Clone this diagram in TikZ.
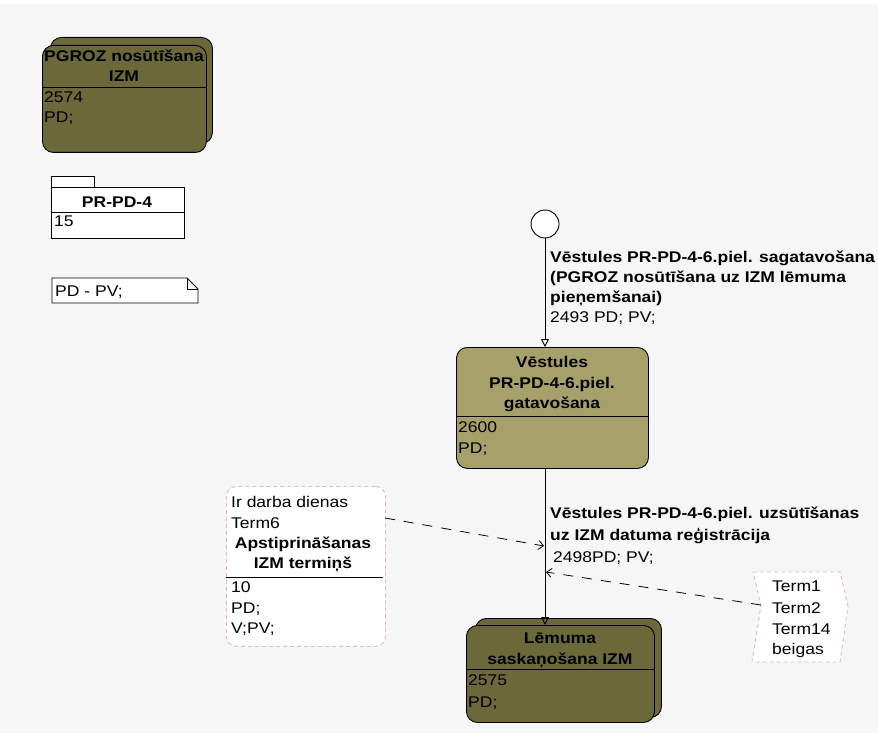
\documentclass[tikz,border=0pt]{standalone}
\usepackage{fontspec}
\setmainfont{Liberation Sans}[FakeStretch=1.13]
\usetikzlibrary{arrows.meta}
\definecolor{darkolive}{HTML}{6B6839}
\definecolor{lightolive}{HTML}{A6A16B}
\definecolor{pinkdash}{HTML}{E0B4E0}
\definecolor{bgc}{HTML}{F6F6F6}
\newcommand\fnt{\fontsize{15.5}{21}\selectfont}
\begin{document}
\begin{tikzpicture}[x=1pt,y=-1pt,
  lt/.style={inner sep=0pt,anchor=base west,font=\fnt},
  ct/.style={inner sep=0pt,anchor=base,font=\fnt\bfseries},
  bl/.style={inner sep=0pt,anchor=base west,font=\fnt\bfseries},
  statebox/.style={draw=black,line width=0.9pt,rounded corners=11pt,anchor=north west,inner sep=0pt},
  plainbox/.style={draw=black,line width=0.9pt,fill=white,anchor=north west,inner sep=0pt},
  sep/.style={draw=black,line width=0.9pt},
  flow/.style={draw=black,line width=0.9pt,-{Triangle[open,length=8pt,width=8pt]}},
  depline/.style={draw=black,line width=0.8pt,dash pattern=on 10pt off 9pt,-{Straight Barb[length=5pt,width=9pt]}},
  pinkbox/.style={draw=pinkdash,line width=0.9pt,dash pattern=on 4pt off 3pt,fill=white}]
\useasboundingbox (0,0) rectangle (878,733);
\fill[bgc] (0,4) rectangle (878,733);

% PGROZ state
\node[statebox,fill=darkolive,minimum width=162pt,minimum height=106pt] (pgrozback) at (50,37) {};
\node[statebox,fill=darkolive,minimum width=164pt,minimum height=107pt] (pgroz) at (42,45) {};
\draw[sep] (pgroz.west |- 0,87) -- (pgroz.east |- 0,87);
\node[ct] (pgrozta) at (124,62) {PGROZ nosūtīšana};
\node[ct] (pgroztb) at (124,82) {IZM};
\node[lt] (pgrozn) at (44,103) {2574};
\node[lt] (pgrozp) at (44,123) {PD;};

% package
\node[plainbox,minimum width=43pt,minimum height=11pt] (pkgtab) at (51,176) {};
\node[plainbox,minimum width=133pt,minimum height=51pt] (pkg) at (51,187) {};
\draw[sep] (pkg.west |- 0,212) -- (pkg.east |- 0,212);
\node[ct] (pkgt) at (117,207) {PR-PD-4};
\node[lt] (pkgn) at (54,226) {15};

% note
\draw[line width=0.9pt,fill=white] (52,278) -- (187,278) -- (198,289) -- (198,303) -- (52,303) -- cycle;
\draw[line width=0.8pt] (187,278) -- (187,289) -- (198,289);
\node[lt] (notet) at (55,296) {PD - PV;};

% start
\node[circle,draw=black,line width=0.9pt,fill=white,minimum size=28pt,inner sep=0pt] (start) at (545,224) {};

% Vestules state
\node[statebox,fill=lightolive,minimum width=192pt,minimum height=121pt] (vest) at (456,347) {};
\draw[sep] (vest.west |- 0,416) -- (vest.east |- 0,416);
\node[ct] (vesta) at (552,367) {Vēstules};
\node[ct] (vestb) at (552,388) {PR-PD-4-6.piel.};
\node[ct] (vestc) at (552,408) {gatavošana};
\node[lt] (vestn) at (458,432) {2600};
\node[lt] (vestp) at (458,453) {PD;};

% Lemuma state
\node[statebox,fill=darkolive,minimum width=186pt,minimum height=99pt] (lemback) at (475,618) {};
\node[statebox,fill=darkolive,minimum width=188pt,minimum height=97pt] (lem) at (466,625) {};
\draw[sep] (lem.west |- 0,669) -- (lem.east |- 0,669);
\node[ct] (lema) at (560,643) {Lēmuma};
\node[ct] (lemb) at (560,664) {saskaņošana IZM};
\node[lt] (lemn) at (468,685) {2575};
\node[lt] (lemp) at (468,707) {PD;};

% flows
\draw[flow] (start.south) -- (start.south |- vest.north);
\draw[flow] (start |- vest.south) -- (start |- lem.north);

\node[bl] (fa1) at (550,262) {Vēstules PR-PD-4-6.piel. sagatavošana};
\node[bl] (fa2) at (550,282) {(PGROZ nosūtīšana uz IZM lēmuma};
\node[bl] (fa3) at (550,302) {pieņemšanai)};
\node[lt] (fa4) at (550,322) {2493 PD; PV;};

\node[bl] (fb1) at (550,518) {Vēstules PR-PD-4-6.piel. uzsūtīšanas};
\node[bl] (fb2) at (550,540) {uz IZM datuma reģistrācija};
\node[lt] (fb3) at (553,562) {2498PD; PV;};

% left term box
\node[pinkbox,rounded corners=10pt,anchor=north west,minimum width=159pt,minimum height=160pt,inner sep=0pt] (termbox) at (226,486) {};
\draw[sep] (termbox.west |- 0,577) -- ([xshift=-3pt]termbox.east |- 0,577);
\node[lt] (tb1) at (231,507) {Ir darba dienas};
\node[lt] (tb2) at (231,528) {Term6};
\node[ct] (tb3) at (303,548) {Apstiprināšanas};
\node[ct] (tb4) at (303,568) {IZM termiņš};
\node[lt] (tb5) at (231,592) {10};
\node[lt] (tb6) at (231,613) {PD;};
\node[lt] (tb7) at (231,633) {V;PV;};

% right term shape
\draw[pinkbox] (753,572) -- (840,572) -- (848,606) -- (840,662) -- (752,662) -- (761,606) -- cycle;
\coordinate (notch) at (761,605);
\node[lt] (rb1) at (772,591) {Term1};
\node[lt] (rb2) at (772,613) {Term2};
\node[lt] (rb3) at (772,634) {Term14};
\node[lt] (rb4) at (772,654) {beigas};

% dependencies
\coordinate (lsrc) at (385,518);
\coordinate (ja) at (544,546);
\coordinate (jb) at (546,572);
\draw[depline] (lsrc) -- (ja);
\draw[depline] (notch) -- (jb);
\end{tikzpicture}
\end{document}
